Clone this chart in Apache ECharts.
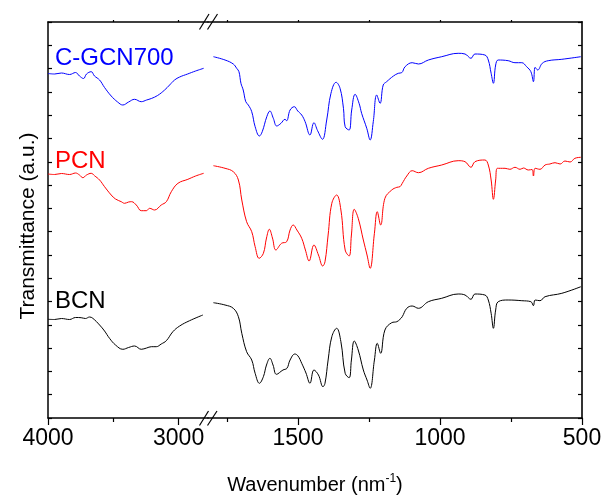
<!DOCTYPE html>
<html><head><meta charset="utf-8">
<script src="https://cdn.jsdelivr.net/npm/echarts@6/dist/echarts.min.js"></script>
<style>html,body{margin:0;padding:0;background:#fff}#c{width:605px;height:497px}</style>
</head><body><div id="c"></div>
<script>
// Data: [wavenumber, transmittance (a.u., offset per sample)]
const blueLeft = [[4000,344.5],[3950,344],[3897,345],[3835,343.5],[3789,345.5],[3759,342],[3728,339.5],[3705,344],[3669,346.3],[3644,342],[3605,338],[3567,330.5],[3516,322],[3467,316],[3427,313],[3383,316],[3337,318.7],[3286,316.3],[3245,318],[3209,319.5],[3161,322.5],[3107,328],[3069,333],[3031,338],[2992,341],[2931,344],[2870,347],[2808,349.7]];
const redLeft = [[4000,244],[3950,243.5],[3897,244.5],[3835,243.5],[3789,245],[3759,243],[3733,240.3],[3705,243],[3669,244.7],[3644,242.3],[3605,238],[3567,231.3],[3516,223],[3483,219],[3439,216.3],[3414,214.7],[3383,216],[3360,216.3],[3324,213],[3286,207.3],[3247,207.3],[3222,209.7],[3184,208],[3133,213],[3094,216.3],[3056,226.3],[3005,234.7],[2929,238.7],[2870,242],[2808,244.7]];
const blackLeft = [[4000,98.7],[3950,98.5],[3897,99.5],[3835,98.5],[3789,100.5],[3746,100.3],[3713,99.5],[3682,101],[3657,99.7],[3605,93],[3567,87],[3529,79.7],[3483,73],[3427,68.7],[3383,70.5],[3337,72],[3286,68.7],[3245,70],[3209,71.3],[3171,71.3],[3133,74],[3094,77.3],[3044,86.3],[2992,92],[2916,97.3],[2814,103]];
const blueRight = [[1798,361.3],[1757,358],[1728,354],[1716,349.7],[1708,346.3],[1701,334.7],[1693,328],[1684,316.3],[1675,313],[1663,306.3],[1651,291.3],[1636,282],[1626,286.3],[1610,301.3],[1599,307],[1587,299.7],[1575,292],[1560,294.7],[1546,298.7],[1540,297.3],[1528,308],[1513,311.3],[1501,307],[1487,303],[1475,296.3],[1458,283],[1444,295.3],[1431,287.3],[1414,278.7],[1399,298],[1384,324.7],[1366,335.7],[1352,329.7],[1340,309.7],[1334,291.3],[1320,288],[1311,308],[1299,323.7],[1285,314.7],[1276,304.7],[1258,289.7],[1246,278],[1235,296.3],[1223,323],[1211,314.7],[1200,333],[1188,336.3],[1164,342],[1147,344.7],[1135,345.3],[1123,351.3],[1098,355.3],[1076,354],[1041,358],[994,361.3],[936,364.7],[912,364],[891,359.7],[877,364],[842,363],[830,358],[820,344.7],[812,334.7],[804,353],[795,358],[760,357.3],[736,355.3],[712,355.3],[695,351.3],[680,346.3],[671,336.3],[665,350.7],[656,348],[640,354.7],[619,357.3],[571,358.7],[504,361.3]];
const redRight = [[1798,252.3],[1757,249.7],[1728,246.3],[1710,238],[1698,218],[1681,196.3],[1663,186.3],[1651,171.3],[1637,159.7],[1622,164.7],[1611,180],[1601,188.7],[1590,180],[1578,168],[1558,174.7],[1540,176.3],[1528,188],[1517,193],[1504,188],[1487,179.7],[1474,168],[1461,157],[1444,173],[1428,163],[1413,152],[1405,156.3],[1394,183],[1381,214.7],[1364,223],[1349,208],[1334,168],[1320,162],[1312,183],[1302,208.7],[1288,199.7],[1270,178],[1257,163],[1246,149.7],[1231,184.7],[1221,206.3],[1209,193],[1194,219.7],[1170,228],[1152,230.7],[1141,231.3],[1133,234.7],[1117,242],[1098,247.3],[1076,245.3],[1041,249.7],[994,253],[936,257.3],[912,256.3],[891,250.7],[877,256.3],[842,258],[830,253],[820,238],[812,218.7],[804,238],[798,249.7],[771,249.7],[754,248.7],[736,250.7],[718,248.7],[706,250],[689,248],[676,248.5],[671,242],[665,249.7],[648,248.7],[630,253],[613,254],[595,255.3],[577,254],[560,257],[542,256],[525,259.7],[504,260.7]];
const blackRight = [[1798,115.3],[1757,113],[1728,109.7],[1710,101.3],[1698,84.7],[1681,66.3],[1663,58],[1651,44.7],[1636,34.7],[1622,41.3],[1611,53],[1599,59.7],[1588,53],[1576,43.7],[1553,48],[1539,49.7],[1528,58],[1511,64],[1500,62],[1487,54.7],[1472,45],[1458,34.7],[1444,48],[1428,43],[1412,31.3],[1405,34.7],[1394,58],[1381,81.3],[1364,89.7],[1349,76.3],[1334,44.7],[1320,40.3],[1312,58],[1302,77],[1288,68],[1270,48],[1257,38],[1246,29.7],[1231,58],[1221,74.7],[1209,64.7],[1194,88],[1170,95.3],[1152,96.3],[1141,98.7],[1133,101.3],[1117,109.7],[1098,112],[1076,109.7],[1041,116.3],[994,119.7],[936,124],[912,123],[891,118.7],[877,124],[842,123],[830,118],[820,104.7],[812,89.7],[804,108],[795,116.3],[760,118],[712,117.3],[680,116.3],[671,112.3],[665,118],[648,117.3],[630,121.3],[571,124.7],[504,131.3]];

const seriesNames = ['C-GCN700', 'PCN', 'BCN'];
const seriesColors = ['#0000ff', '#ff0000', '#000000'];
const leftMajor = [4000, 3000], leftMinor = [3500];
const rightMajor = [1500, 1000, 500], rightMinor = [1750, 1250, 750];

const FONT = 'Liberation Sans, Arial, sans-serif';
const chart = echarts.init(document.getElementById('c'));
const G_TOP = 22, G_H = 396, BRK = 208, G_RIGHT = 582, G_LEFT = 48;
const axisLine = {show: true, lineStyle: {color: '#000', width: 1.5}};
function xAx(grid, min, max, pos, ticks, labels, len, showLine) {
  return {type: 'value', gridIndex: grid, min: min, max: max, inverse: true, position: pos,
    axisLine: showLine ? axisLine : {show: false},
    splitLine: {show: false},
    axisTick: {show: ticks.length > 0, customValues: ticks, length: len, inside: false, lineStyle: {color: '#000', width: 1.2}},
    axisLabel: labels ? {show: true, customValues: labels, formatter: v => String(v), fontSize: 23, color: '#000', fontFamily: FONT, margin: 9} : {show: false}};
}
function yAx(grid, pos, name) {
  return {type: 'value', gridIndex: grid, min: 0, max: 396, interval: 396/17, position: pos,
    axisLine: axisLine, splitLine: {show: false},
    axisTick: {show: true, inside: true, length: 4, lineStyle: {color: '#000', width: 1.2}},
    axisLabel: {show: false},
    name: name || '', nameLocation: 'middle', nameGap: 9,
    nameTextStyle: {fontSize: 21, color: '#000', fontFamily: FONT, padding: [0, 12, 0, 0]}};
}
const xAxes = [
  xAx(0, 2775, 4000, 'bottom', leftMajor, leftMajor, 7, true),
  xAx(0, 2775, 4000, 'bottom', leftMinor, null, 4, false),
  xAx(0, 2775, 4000, 'top', leftMinor.concat([3000]), null, 2, true),
  xAx(1, 500, 1817, 'bottom', rightMajor, rightMajor, 7, true),
  xAx(1, 500, 1817, 'bottom', rightMinor, null, 4, false),
  xAx(1, 500, 1817, 'top', [1750, 1500, 1250, 1000, 750], null, 2, true)
];
const yAxes = [yAx(0, 'left', 'Transmittance (a.u.)'), yAx(1, 'right')];
yAxes[1].axisLine = {show: true, lineStyle: {color: '#333', width: 2}};
const leftData = [blueLeft, redLeft, blackLeft];
const rightData = [blueRight, redRight, blackRight];
const series = [];
for (let i = 0; i < 3; i++) {
  const common = {type: 'line', name: seriesNames[i], showSymbol: false, smooth: 0.4,
    lineStyle: {color: seriesColors[i], width: 1}, itemStyle: {color: seriesColors[i]}, animation: false};
  series.push(Object.assign({}, common, {xAxisIndex: 0, yAxisIndex: 0, data: leftData[i]}));
  series.push(Object.assign({}, common, {xAxisIndex: 3, yAxisIndex: 1, data: rightData[i]}));
}
const slash = (x1, y1, x2, y2) => ({type: 'line', shape: {x1, y1, x2, y2}, style: {stroke: '#000', lineWidth: 1.2}});
chart.setOption({
  animation: false,
  grid: [
    {left: G_LEFT, top: G_TOP, width: BRK - G_LEFT, height: G_H},
    {left: BRK, top: G_TOP, width: G_RIGHT - BRK, height: G_H}
  ],
  xAxis: xAxes, yAxis: yAxes, series: series,
  graphic: [
    slash(199.5, 29.5, 209, 14), slash(207.5, 29.5, 217.5, 14),
    slash(199.5, 425.5, 208.5, 411), slash(207.5, 425.5, 217, 411),
    {type: 'text', left: 55, top: 46, style: {text: seriesNames[0], fill: seriesColors[0], fontSize: 24, fontFamily: FONT}},
    {type: 'text', left: 55, top: 149, style: {text: seriesNames[1], fill: seriesColors[1], fontSize: 24, fontFamily: FONT}},
    {type: 'text', left: 55, top: 289, style: {text: seriesNames[2], fill: seriesColors[2], fontSize: 24, fontFamily: FONT}},
    {type: 'text', x: 315, y: 473, style: {text: '{a|Wavenumber (nm}{s|-1}{a|)}', align: 'center', fill: '#000',
      rich: {a: {fontSize: 20, fontFamily: FONT, fill: '#000', verticalAlign: 'bottom', lineHeight: 22},
             s: {fontSize: 12, fontFamily: FONT, fill: '#000', verticalAlign: 'top', lineHeight: 22}}}}
  ]
});
</script></body></html>
